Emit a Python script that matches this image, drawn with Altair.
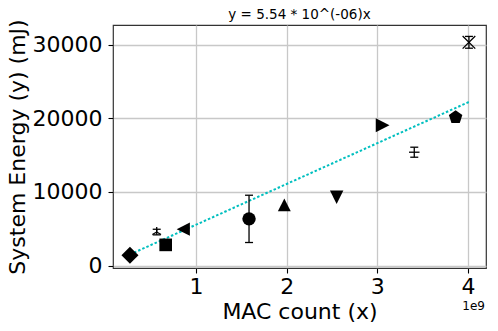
import altair as alt
import pandas as pd

# ---- data ----
mac_count = [0.272e9, 0.567e9, 0.666e9, 0.860e9, 1.585e9, 1.974e9, 2.551e9, 3.058e9, 3.407e9, 3.863e9, 4.010e9]
energy = [1400, 4550, 2810, 4940, 6340, 8240, 9280, 19050, 15390, 20140, 30310]
energy_err = [0, 380, 0, 0, 3210, 0, 0, 0, 680, 0, 800]
markers = ["diamond", "tri", "square", "left", "circle", "up", "down", "right", "hline", "pentagon", "x"]

slope = 5.54e-06
title_text = "y = 5.54 * 10^(-06)x"
x_ticks = [1e9, 2e9, 3e9, 4e9]
y_ticks = [0, 10000, 20000, 30000]

# ---- marker styles ----
shape_paths = {
    "diamond": ("diamond", 290, True),
    "tri": ("M0,0L0,-1M0,0L-0.866,0.5M0,0L0.866,0.5", 100, False),
    "square": ("square", 160, True),
    "left": ("M-1,0L1,-1L1,1Z", 175, True),
    "circle": ("circle", 180, True),
    "up": ("M0,-1L1,1L-1,1Z", 165, True),
    "down": ("M0,1L1,-1L-1,-1Z", 180, True),
    "right": ("M1,0L-1,-1L-1,1Z", 190, True),
    "hline": ("M-1,0L1,0", 110, False),
    "pentagon": ("M0,-1L0.951,-0.309L0.588,0.809L-0.588,0.809L-0.951,-0.309Z", 200, True),
    "x": ("M-1,-1L1,1M-1,1L1,-1", 160, False),
}

df = pd.DataFrame({"x": mac_count, "y": energy, "err": energy_err, "m": markers})
df["shape"] = [shape_paths[m][0] for m in markers]
df["size"] = [shape_paths[m][1] for m in markers]
df["filled"] = [shape_paths[m][2] for m in markers]
df["lo"] = df["y"] - df["err"]
df["hi"] = df["y"] + df["err"]

x0, x1 = min(mac_count), max(mac_count)
fit = pd.DataFrame({"x": [x0, x1], "y": [slope * x0, slope * x1]})

W, H = 373, 243
FONT = "DejaVu Sans"

xscale = alt.Scale(domain=[0.085e9, 4.198e9], nice=False, zero=False)
yscale = alt.Scale(domain=[-330, 32660], nice=False, zero=False)

common = dict(labelFont=FONT, titleFont=FONT, labelFontSize=22, titleFontSize=22,
              labelColor="black", titleColor="black", titleFontWeight="normal",
              grid=True, gridColor="#c8c8c8", gridWidth=1.3,
              domain=False, tickColor="black", tickSize=5, tickWidth=1.1)

xaxis = alt.Axis(values=x_ticks, labelExpr="format(datum.value/1e9, 'd')",
                 title="MAC count (x)", titleX=W / 2, titleY=43, titleBaseline="middle",
                 titleAlign="center", labelPadding=3, labelBaseline="top", **common)
yaxis = alt.Axis(values=y_ticks, format="d", title="System Energy (y) (mJ)",
                 titleX=-96, titleY=H / 2, titleBaseline="middle", titleAlign="center",
                 titleAngle=-90, labelPadding=6, **common)

base = alt.Chart(df)

line = alt.Chart(fit).mark_line(color="#00bfbf", strokeDash=[2.5, 2], strokeWidth=2).encode(
    x=alt.X("x:Q", scale=xscale, axis=xaxis),
    y=alt.Y("y:Q", scale=yscale, axis=yaxis),
)

err_df = base.transform_filter("datum.err > 0")
err_rule = err_df.mark_rule(color="black", strokeWidth=1.3).encode(
    x="x:Q", y="lo:Q", y2="hi:Q")
cap_lo = err_df.mark_point(shape="stroke", size=64, color="black", strokeWidth=1.3, opacity=1).encode(
    x="x:Q", y="lo:Q")
cap_hi = err_df.mark_point(shape="stroke", size=64, color="black", strokeWidth=1.3, opacity=1).encode(
    x="x:Q", y="hi:Q")

pts_filled = base.transform_filter("datum.filled").mark_point(
    filled=True, color="black", opacity=1, strokeWidth=0).encode(
    x="x:Q", y="y:Q",
    shape=alt.Shape("shape:N", scale=None),
    size=alt.Size("size:Q", scale=None),
)
pts_open = base.transform_filter("!datum.filled").mark_point(
    filled=False, color="black", opacity=1, strokeWidth=1.3).encode(
    x="x:Q", y="y:Q",
    shape=alt.Shape("shape:N", scale=None),
    size=alt.Size("size:Q", scale=None),
)

offset_txt = alt.Chart(pd.DataFrame({"t": ["1e9"]})).mark_text(
    align="right", baseline="middle", fontSize=12, font=FONT, color="black").encode(
    text="t:N", x=alt.value(W - 1), y=alt.value(H + 38))

chart = alt.layer(line, err_rule, cap_lo, cap_hi, pts_filled, pts_open, offset_txt).properties(
    width=W, height=H,
    background="white",
    title=alt.TitleParams(title_text, fontSize=13.5, font=FONT, fontWeight="normal",
                          anchor="middle", offset=-3, color="black"),
    autosize=alt.AutoSizeParams(type="none"),
    padding={"left": 105, "top": 17, "right": 4, "bottom": 55},
).configure_view(
    stroke="#333333", strokeWidth=1.2
)

chart.save("out.html", embed_options={"renderer": "svg", "actions": False})
